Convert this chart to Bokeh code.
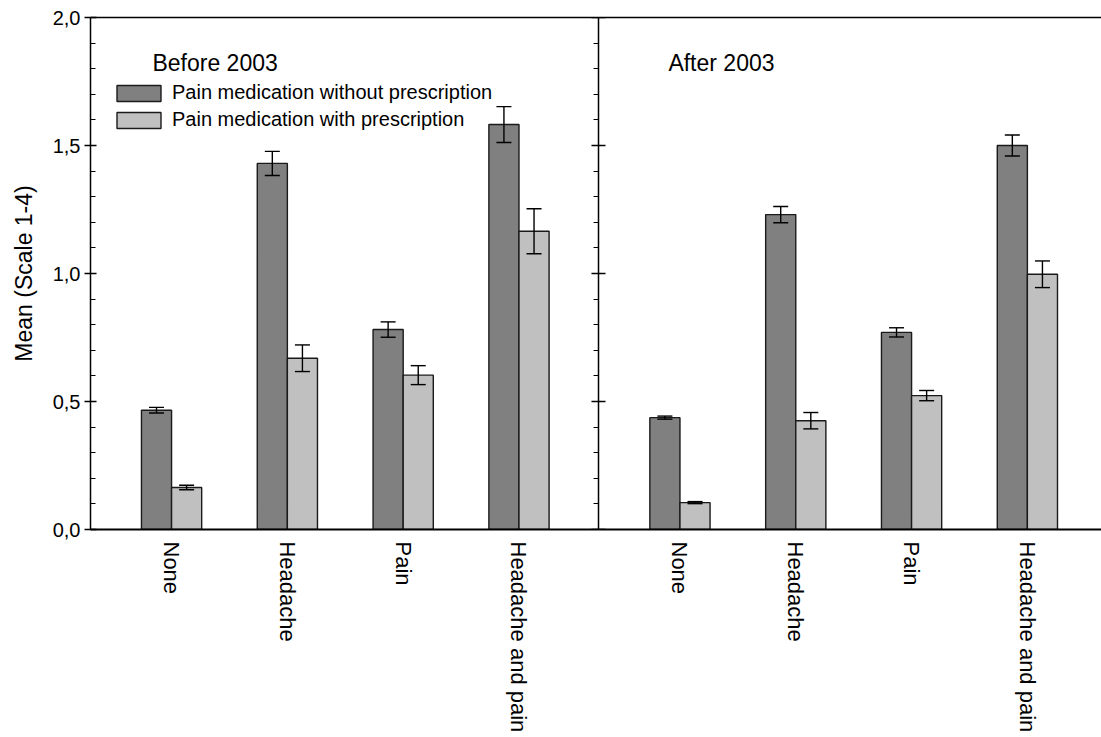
import math
from bokeh.plotting import figure
from bokeh.models import (ColumnDataSource, Whisker, TeeHead, LinearAxis, FixedTicker,
                          CustomJSTickFormatter, Legend, LegendItem, Label, Range1d)
from bokeh.embed import file_html
from bokeh.resources import INLINE

# ---------------- data ----------------
categories = ["None", "Headache", "Pain", "Headache and pain"]
periods = ["Before 2003", "After 2003"]
series_names = ["Pain medication without prescription", "Pain medication with prescription"]

before_without = [0.466, 1.430, 0.781, 1.582]
before_without_err = [0.011, 0.047, 0.030, 0.070]
before_with = [0.164, 0.669, 0.603, 1.165]
before_with_err = [0.009, 0.052, 0.037, 0.088]

after_without = [0.437, 1.230, 0.770, 1.500]
after_without_err = [0.006, 0.032, 0.018, 0.041]
after_with = [0.105, 0.425, 0.523, 0.997]
after_with_err = [0.004, 0.032, 0.020, 0.052]

y_ticks = [0.0, 0.5, 1.0, 1.5, 2.0]

# ---------------- layout ----------------
FONT = "Liberation Sans"
DARK = "#808080"
LIGHT = "#c0c0c0"
bar_w = 0.26
first_offset = 0.70
panel_width = 4.39
x_end = 8.73

left_centers = [first_offset + i for i in range(len(categories))]
right_centers = [panel_width + first_offset + i for i in range(len(categories))]
centers = left_centers + right_centers
labels = categories + categories


def make_source(centers_, values, errs, shift):
    xs = [c + shift for c in centers_]
    return ColumnDataSource(dict(
        x=xs, top=values,
        upper=[v + e for v, e in zip(values, errs)],
        lower=[v - e for v, e in zip(values, errs)],
    ))


src_dark = make_source(centers, before_without + after_without,
                       before_without_err + after_without_err, -bar_w / 2)
src_light = make_source(centers, before_with + after_with,
                        before_with_err + after_with_err, bar_w / 2)

p = figure(width=1101, height=737, output_backend="svg", toolbar_location=None,
           x_range=Range1d(0, x_end), y_range=Range1d(0, 2.0),
           min_border_left=90, min_border_right=0, min_border_top=17, min_border_bottom=208)
p.outline_line_color = None
p.grid.visible = False
p.background_fill_color = "white"
p.border_fill_color = "white"

r_dark = p.vbar(x="x", top="top", width=bar_w, source=src_dark,
                fill_color=DARK, line_color="#1a1a1a", line_width=1.4)
r_light = p.vbar(x="x", top="top", width=bar_w, source=src_light,
                 fill_color=LIGHT, line_color="#1a1a1a", line_width=1.4)

for src in (src_dark, src_light):
    w = Whisker(source=src, base="x", upper="upper", lower="lower",
                line_color="black", line_width=1.4, level="overlay",
                upper_head=TeeHead(size=15, line_color="black", line_width=1.4),
                lower_head=TeeHead(size=15, line_color="black", line_width=1.4))
    p.add_layout(w)

# y axis
yfmt = CustomJSTickFormatter(code="return tick.toFixed(1).replace('.', ',');")
yax = p.yaxis[0]
yax.ticker = FixedTicker(ticks=y_ticks,
                         minor_ticks=[i / 10 for i in range(0, 21)])
yax.formatter = yfmt
yax.major_tick_in = 6
yax.major_tick_out = 6
yax.minor_tick_in = 5
yax.minor_tick_out = 0
yax.axis_line_width = 1.5
yax.major_tick_line_width = 1.3
yax.minor_tick_line_width = 1.0
yax.major_label_text_font = FONT
yax.major_label_text_font_size = "20px"
yax.major_label_text_color = "black"
yax.major_label_standoff = 4
yax.axis_label = "Mean (Scale 1-4)"
yax.axis_label_text_font = FONT
yax.axis_label_text_font_size = "23px"
yax.axis_label_text_font_style = "normal"
yax.axis_label_text_color = "black"
yax.axis_label_standoff = 13

# x axis
xfmt = CustomJSTickFormatter(args=dict(pos=centers, lab=labels), code="""
for (let i = 0; i < pos.length; i++) {
  if (Math.abs(pos[i] - tick) < 1e-6) return lab[i];
}
return '';
""")
xax = p.xaxis[0]
xax.ticker = FixedTicker(ticks=centers, minor_ticks=[])
xax.formatter = xfmt
xax.major_tick_in = 0
xax.major_tick_out = 0
xax.axis_line_width = 2.2
xax.major_label_orientation = -math.pi / 2
xax.major_label_standoff = 12
xax.major_label_text_font = FONT
xax.major_label_text_font_size = "22px"
xax.major_label_text_color = "black"

# top border line
top_ax = LinearAxis(ticker=FixedTicker(ticks=[], minor_ticks=[]),
                    major_tick_in=0, major_tick_out=0, minor_tick_in=0, minor_tick_out=0,
                    major_label_standoff=0, axis_line_width=1.5)
p.add_layout(top_ax, "above")

# divider between the two periods (axis drawn at fixed location, no labels)
blank = CustomJSTickFormatter(code="return '';")
mid_ax = LinearAxis(fixed_location=panel_width,
                    ticker=FixedTicker(ticks=y_ticks, minor_ticks=[i / 10 for i in range(0, 21)]),
                    formatter=blank, major_label_standoff=0,
                    major_tick_in=7, major_tick_out=7, minor_tick_in=5, minor_tick_out=0,
                    axis_line_width=1.5, major_tick_line_width=1.3, minor_tick_line_width=1.0)
p.add_layout(mid_ax, "right")

# panel titles
p.add_layout(Label(x=first_offset - 0.165, y=1.822, text=periods[0], text_font=FONT,
                   text_font_size="23px", text_color="black", text_baseline="alphabetic"))
p.add_layout(Label(x=panel_width + 0.60, y=1.822, text=periods[1], text_font=FONT,
                   text_font_size="23px", text_color="black", text_baseline="alphabetic"))

legend = Legend(items=[LegendItem(label=series_names[0], renderers=[r_dark]),
                       LegendItem(label=series_names[1], renderers=[r_light])],
                location=(21, 398), border_line_color=None, background_fill_alpha=0,
                glyph_width=55, glyph_height=20, label_text_font=FONT,
                label_text_font_size="20px", label_text_color="black",
                label_standoff=6, spacing=4, padding=0, margin=0)
p.add_layout(legend)

open("out.html", "w").write(file_html(p, INLINE))
